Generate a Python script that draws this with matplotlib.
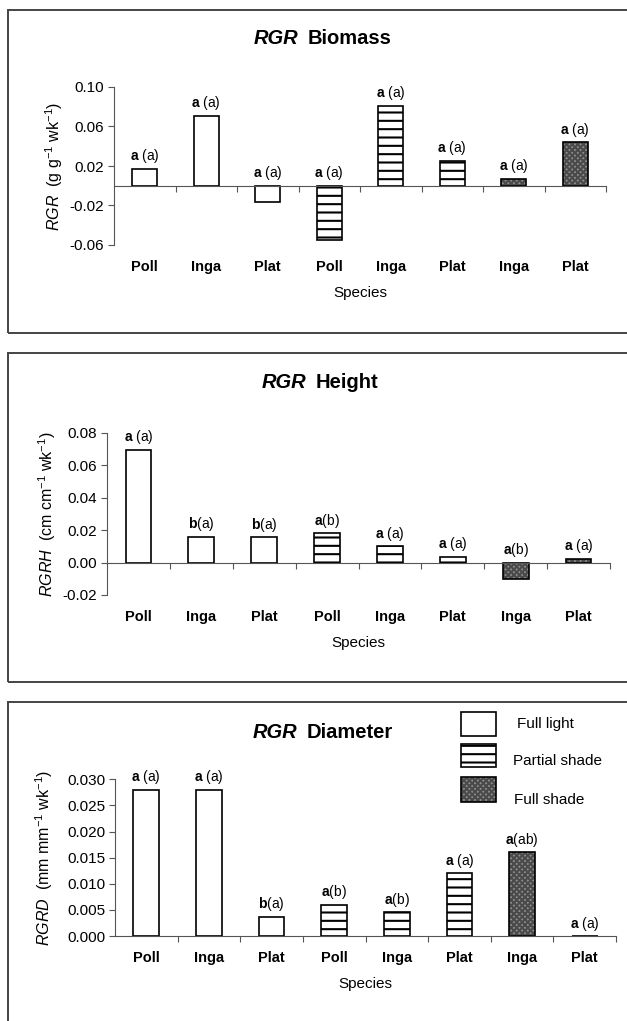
import matplotlib.pyplot as plt
from matplotlib.patches import Rectangle
from matplotlib.ticker import FormatStrFormatter

plt.rcParams.update({
    "font.family": "Liberation Sans",
    "mathtext.fontset": "custom",
    "mathtext.rm": "Liberation Sans",
    "mathtext.it": "Liberation Sans:italic",
    "mathtext.bf": "Liberation Sans:bold",
    "axes.unicode_minus": False,
    "hatch.linewidth": 1.5,
})

# data
species = ["Poll", "Inga", "Plat", "Poll", "Inga", "Plat", "Inga", "Plat"]
treatment = ["Full light", "Full light", "Full light", "Partial shade",
             "Partial shade", "Partial shade", "Full shade", "Full shade"]

biomass = [0.017, 0.071, -0.0165, -0.055, 0.081, 0.0255, 0.007, 0.044]
biomass_sig = [("a", " (a)"), ("a", " (a)"), ("a", " (a)"), ("a", " (a)"),
               ("a", " (a)"), ("a", " (a)"), ("a", " (a)"), ("a", " (a)")]

height = [0.0695, 0.0158, 0.0155, 0.018, 0.010, 0.0035, -0.0102, 0.0023]
height_sig = [("a", " (a)"), ("b", "(a)"), ("b", "(a)"), ("a", "(b)"),
              ("a", " (a)"), ("a", " (a)"), ("a", "(b)"), ("a", " (a)")]

diameter = [0.028, 0.028, 0.0037, 0.006, 0.0046, 0.012, 0.016, 0.0]
diameter_sig = [("a", " (a)"), ("a", " (a)"), ("b", "(a)"), ("a", "(b)"),
                ("a", "(b)"), ("a", " (a)"), ("a", "(ab)"), ("a", " (a)")]

# fill style per treatment: face colour, hatch, hatch colour
styles = {
    "Full light": ("white", None, "black"),
    "Partial shade": ("white", "--", "black"),
    "Full shade": ("#8f8f8f", "xxxxxx", "#4a4a4a"),
}

W, H = 627, 1021
fig = plt.figure(figsize=(W / 100, H / 100), dpi=100)


def fx(px):
    return px / W


def fy(py):
    return 1 - py / H


def styled_rect(xy, w, h, kind, **kw):
    face, hatch, hcol = styles[kind]
    under = Rectangle(xy, w, h, facecolor=face, edgecolor=hcol, linewidth=0,
                      hatch=hatch, **kw)
    over = Rectangle(xy, w, h, fill=False, edgecolor="black", linewidth=1.2, **kw)
    return under, over


def panel(box, rect, ylim, ticks, fmt, values, sig, name, split, title_y,
          ylabel, ylabel_x):
    # panel frame
    x0, y0, x1, y1 = box
    fig.patches.append(Rectangle((fx(x0), fy(y1)), fx(x1) - fx(x0), fy(y0) - fy(y1),
                                 transform=fig.transFigure, fill=False,
                                 edgecolor="#444444", linewidth=1.4))
    left, top, right, bottom = rect
    ax = fig.add_axes([fx(left), fy(bottom), fx(right) - fx(left), fy(top) - fy(bottom)])
    ax.set_xlim(-0.5, len(values) - 0.5)
    ax.set_ylim(*ylim)

    # fill + hatch first, then outline on top
    for kind in styles:
        idx = [i for i, t in enumerate(treatment) if t == kind]
        face, hatch, hcol = styles[kind]
        ax.bar(idx, [values[i] for i in idx], width=0.41, color=face,
               edgecolor=hcol, linewidth=0, hatch=hatch)
    ax.bar(range(len(values)), values, width=0.41, fill=False,
           edgecolor="black", linewidth=1.2)

    for s in ["top", "right"]:
        ax.spines[s].set_visible(False)
    ax.spines["bottom"].set_position(("data", 0))
    ax.spines["left"].set_linewidth(0.8)
    ax.spines["bottom"].set_linewidth(0.8)
    ax.spines["left"].set_color("#555555")
    ax.spines["bottom"].set_color("#555555")
    ax.set_xticks([i + 0.5 for i in range(len(values))])
    ax.set_xticklabels([])
    ax.tick_params(axis="x", direction="out", length=4, width=0.8, color="#555555")
    ax.set_yticks(ticks)
    ax.yaxis.set_major_formatter(FormatStrFormatter(fmt))
    ax.tick_params(axis="y", direction="out", length=4, width=0.8, color="#555555",
                   labelsize=11, pad=3)

    for i, (v, (l1, l2)) in enumerate(zip(values, sig)):
        ax.annotate(r"$\mathbf{" + l1 + "}$" + l2, (i, max(v, 0)), xytext=(0, 2.5),
                    textcoords="offset points", ha="center", va="bottom", fontsize=10)
    for i, sp in enumerate(species):
        ax.annotate(sp, (i, 0), xycoords=("data", "axes fraction"), xytext=(0, -15.5),
                    textcoords="offset points", ha="center", va="center",
                    fontsize=10.5, fontweight="bold")

    fig.text(fx((left + right) / 2), fy(bottom + 47.5), "Species", ha="center",
             va="center", fontsize=11)
    fig.text(fx(split - 5), fy(title_y), "RGR", ha="right", va="center",
             fontsize=14.5, fontweight="bold", fontstyle="italic")
    fig.text(fx(split + 5), fy(title_y), name, ha="left", va="center",
             fontsize=14.5, fontweight="bold")
    fig.text(fx(ylabel_x), fy((top + bottom) / 2), ylabel, rotation=90,
             ha="center", va="center", fontsize=11.5)
    return ax


panel((8, 10, 640, 333), (114, 87, 606, 245), (-0.06, 0.10),
      [-0.06, -0.02, 0.02, 0.06, 0.10], "%.2f", biomass, biomass_sig,
      "Biomass", 303, 39, r"$RGR$  (g g$^{-1}$ wk$^{-1}$)", 54)

panel((8, 353, 640, 682), (107, 432.7, 610, 595), (-0.02, 0.08),
      [-0.02, 0.0, 0.02, 0.04, 0.06, 0.08], "%.2f", height, height_sig,
      "Height", 311, 383, r"$RGRH$  (cm cm$^{-1}$ wk$^{-1}$)", 47)

panel((8, 702, 640, 1040), (115, 779.3, 616, 936), (0.0, 0.030),
      [0.0, 0.005, 0.010, 0.015, 0.020, 0.025, 0.030], "%.3f", diameter,
      diameter_sig, "Diameter", 302, 732, r"$RGRD$  (mm mm$^{-1}$ wk$^{-1}$)", 44)

# legend in the diameter panel
legend_boxes = [("Full light", 712.3, 736, 516.7, 724),
                ("Partial shade", 744.3, 766.7, 512.7, 761),
                ("Full shade", 776.7, 801.7, 514, 800)]
for lab, yt, yb, tx, ty in legend_boxes:
    for r in styled_rect((fx(461), fy(yb)), fx(496) - fx(461), fy(yt) - fy(yb), lab,
                         transform=fig.transFigure):
        fig.patches.append(r)
    fig.text(fx(tx), fy(ty), lab, ha="left", va="center", fontsize=11)

fig.savefig("out.png", dpi=100)
